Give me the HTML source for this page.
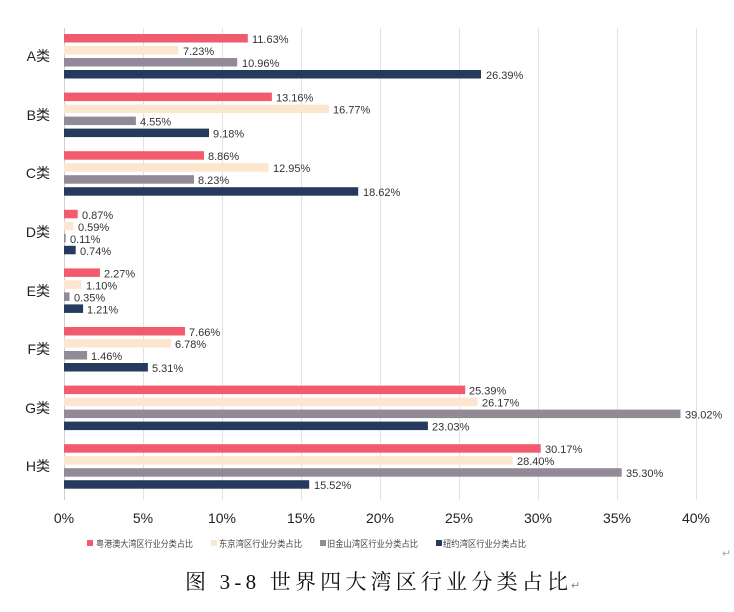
<!DOCTYPE html>
<html><head><meta charset="utf-8"><style>
body{margin:0;background:#fff;width:734px;height:607px;overflow:hidden}
text{font-family:"Liberation Sans","Noto Sans CJK SC",sans-serif}
</style></head><body>
<svg width="734" height="607" xmlns="http://www.w3.org/2000/svg">
<g stroke="#e2e2e2" stroke-width="1">
<line x1="64.5" y1="28" x2="64.5" y2="500" stroke="#d0d0d0"/>
<line x1="143.5" y1="28" x2="143.5" y2="500"/>
<line x1="222.5" y1="28" x2="222.5" y2="500"/>
<line x1="301.5" y1="28" x2="301.5" y2="500"/>
<line x1="380.5" y1="28" x2="380.5" y2="500"/>
<line x1="459.5" y1="28" x2="459.5" y2="500"/>
<line x1="538.5" y1="28" x2="538.5" y2="500"/>
<line x1="617.5" y1="28" x2="617.5" y2="500"/>
<line x1="696.5" y1="28" x2="696.5" y2="500"/>
</g>
<g font-size="14" fill="#222" text-anchor="middle">
<text x="64" y="523">0%</text><text x="143" y="523">5%</text><text x="222" y="523">10%</text><text x="301" y="523">15%</text><text x="380" y="523">20%</text><text x="459" y="523">25%</text><text x="538" y="523">30%</text><text x="617" y="523">35%</text><text x="696" y="523">40%</text>
</g>
<g font-size="14" fill="#222" text-anchor="end">
<text x="50" y="61">A类</text><text x="50" y="120">B类</text><text x="50" y="178">C类</text><text x="50" y="237">D类</text><text x="50" y="296">E类</text><text x="50" y="354">F类</text><text x="50" y="413">G类</text><text x="50" y="471">H类</text>
</g>
<g>
<rect x="64" y="34" width="183.8" height="8.5" fill="#f25a6e"/><rect x="64" y="46" width="114.2" height="8.5" fill="#fce6d0"/><rect x="64" y="58" width="173.2" height="8.5" fill="#928a96"/><rect x="64" y="70" width="417" height="8.5" fill="#263a5e"/>
<rect x="64" y="92.6" width="207.9" height="8.5" fill="#f25a6e"/><rect x="64" y="104.6" width="265" height="8.5" fill="#fce6d0"/><rect x="64" y="116.6" width="71.9" height="8.5" fill="#928a96"/><rect x="64" y="128.6" width="145" height="8.5" fill="#263a5e"/>
<rect x="64" y="151.2" width="140" height="8.5" fill="#f25a6e"/><rect x="64" y="163.2" width="204.6" height="8.5" fill="#fce6d0"/><rect x="64" y="175.2" width="130" height="8.5" fill="#928a96"/><rect x="64" y="187.2" width="294.2" height="8.5" fill="#263a5e"/>
<rect x="64" y="209.8" width="13.7" height="8.5" fill="#f25a6e"/><rect x="64" y="221.8" width="9.3" height="8.5" fill="#fce6d0"/><rect x="64" y="233.8" width="1.7" height="8.5" fill="#928a96"/><rect x="64" y="245.8" width="11.7" height="8.5" fill="#263a5e"/>
<rect x="64" y="268.4" width="35.9" height="8.5" fill="#f25a6e"/><rect x="64" y="280.4" width="17.4" height="8.5" fill="#fce6d0"/><rect x="64" y="292.4" width="5.5" height="8.5" fill="#928a96"/><rect x="64" y="304.4" width="19.1" height="8.5" fill="#263a5e"/>
<rect x="64" y="327" width="121" height="8.5" fill="#f25a6e"/><rect x="64" y="339" width="107.1" height="8.5" fill="#fce6d0"/><rect x="64" y="351" width="23.1" height="8.5" fill="#928a96"/><rect x="64" y="363" width="83.9" height="8.5" fill="#263a5e"/>
<rect x="64" y="385.6" width="401.2" height="8.5" fill="#f25a6e"/><rect x="64" y="397.6" width="413.5" height="8.5" fill="#fce6d0"/><rect x="64" y="409.6" width="616.5" height="8.5" fill="#928a96"/><rect x="64" y="421.6" width="363.9" height="8.5" fill="#263a5e"/>
<rect x="64" y="444.2" width="476.7" height="8.5" fill="#f25a6e"/><rect x="64" y="456.2" width="448.7" height="8.5" fill="#fce6d0"/><rect x="64" y="468.2" width="557.7" height="8.5" fill="#928a96"/><rect x="64" y="480.2" width="245.2" height="8.5" fill="#263a5e"/>
</g>
<g font-size="11" fill="#333">
<text x="252" y="43">11.63%</text><text x="183" y="55">7.23%</text><text x="242" y="67">10.96%</text><text x="486" y="79">26.39%</text>
<text x="276" y="101.6">13.16%</text><text x="333" y="113.6">16.77%</text><text x="140" y="125.6">4.55%</text><text x="213" y="137.6">9.18%</text>
<text x="208" y="160.2">8.86%</text><text x="273" y="172.2">12.95%</text><text x="198" y="184.2">8.23%</text><text x="363" y="196.2">18.62%</text>
<text x="82" y="218.8">0.87%</text><text x="78" y="230.8">0.59%</text><text x="70" y="242.8">0.11%</text><text x="80" y="254.8">0.74%</text>
<text x="104" y="277.4">2.27%</text><text x="86" y="289.4">1.10%</text><text x="74" y="301.4">0.35%</text><text x="87" y="313.4">1.21%</text>
<text x="189" y="336">7.66%</text><text x="175" y="348">6.78%</text><text x="91" y="360">1.46%</text><text x="152" y="372">5.31%</text>
<text x="469" y="394.6">25.39%</text><text x="482" y="406.6">26.17%</text><text x="685" y="418.6">39.02%</text><text x="432" y="430.6">23.03%</text>
<text x="545" y="453.2">30.17%</text><text x="517" y="465.2">28.40%</text><text x="626" y="477.2">35.30%</text><text x="314" y="489.2">15.52%</text>
</g>
<g font-size="9" fill="#444">
<rect x="87" y="540" width="6" height="6" fill="#f25a6e"/><text x="96" y="547" textLength="97" lengthAdjust="spacingAndGlyphs">粤港澳大湾区行业分类占比</text>
<rect x="211" y="540" width="6" height="6" fill="#fce6d0"/><text x="219" y="547" textLength="83" lengthAdjust="spacingAndGlyphs">东京湾区行业分类占比</text>
<rect x="320" y="540" width="6" height="6" fill="#928a96"/><text x="327" y="547" textLength="91" lengthAdjust="spacingAndGlyphs">旧金山湾区行业分类占比</text>
<rect x="436" y="540" width="6" height="6" fill="#263a5e"/><text x="443" y="547" textLength="83" lengthAdjust="spacingAndGlyphs">纽约湾区行业分类占比</text>
</g>
<text x="185" y="589" font-size="21" fill="#111" textLength="383" lengthAdjust="spacing" style="font-family:'Liberation Serif','Noto Serif CJK SC',serif">图 3-8 世界四大湾区行业分类占比</text>
<text x="571" y="589" font-size="11" fill="#888">↵</text>
<text x="722" y="557" font-size="11" fill="#aaa">↵</text>
</svg>
</body></html>
